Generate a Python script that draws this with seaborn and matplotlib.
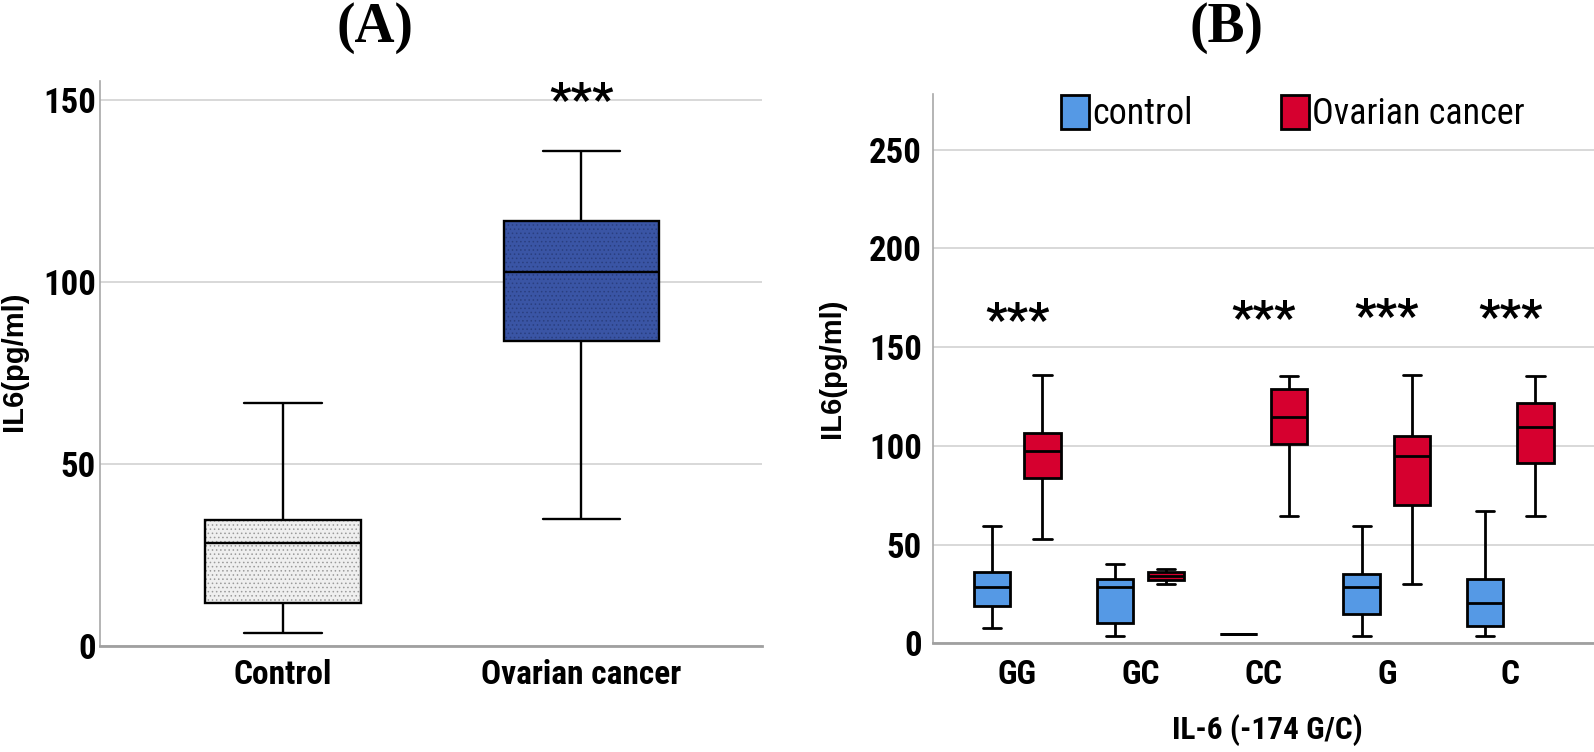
import os
import matplotlib
matplotlib.use("Agg")
import numpy as np
import pandas as pd
import seaborn as sns
import matplotlib.pyplot as plt
from matplotlib import font_manager, patches as mpatches, colors as mcolors
from matplotlib.font_manager import FontProperties

# ---------------- data ----------------
groups_A = ["Control", "Ovarian cancer"]
a_min = [3.7, 35.0]
a_q1 = [11.9, 83.8]
a_med = [28.2, 102.9]
a_q3 = [34.6, 116.8]
a_max = [66.8, 136.0]
yticks_A = [0, 50, 100, 150]

genotypes = ["GG", "GC", "CC", "G", "C"]
status_levels = ["control", "Ovarian cancer"]
ctrl_min = [7.8, 3.8, 5.0, 3.8, 3.8]
ctrl_q1 = [19.0, 10.5, 5.0, 15.0, 8.9]
ctrl_med = [28.8, 28.4, 5.0, 28.4, 20.3]
ctrl_q3 = [36.2, 32.6, 5.0, 35.1, 32.6]
ctrl_max = [59.2, 40.2, 5.0, 59.2, 66.8]
ov_min = [52.7, 30.1, 64.6, 29.9, 64.6]
ov_q1 = [83.8, 32.0, 100.8, 70.2, 91.4]
ov_med = [97.4, 34.0, 114.8, 94.7, 109.7]
ov_q3 = [106.6, 36.3, 128.7, 104.8, 121.5]
ov_max = [136.1, 37.7, 135.2, 136.1, 135.2]
yticks_B = [0, 50, 100, 150, 200, 250]

star_A_x = [1]
star_A_y = [153.5]
star_B_x = [0, 2, 3, 4]
star_B_y = [170.0, 171.0, 172.0, 171.6]

# ---------------- style ----------------
sns.set_theme(style="white")
plt.rcParams["font.family"] = ["Liberation Sans", "DejaVu Sans"]
for k in ("text.color", "axes.labelcolor", "xtick.color", "ytick.color"):
    plt.rcParams[k] = "black"
plt.rcParams["hatch.linewidth"] = 0.6

COND_WORDS = ("narrow", "condensed", "cond")


def _is_condensed(f):
    base = os.path.basename(f.fname).lower()
    name = f.name.lower()
    if any(w in name for w in COND_WORDS) or any(w in base for w in COND_WORDS):
        return True
    st = f.stretch
    if isinstance(st, str):
        return st in ("condensed", "extra-condensed", "ultra-condensed", "semi-condensed")
    return isinstance(st, (int, float)) and st < 500


def _pref(f):
    n = f.name.lower() + " " + os.path.basename(f.fname).lower()
    order = ["liberation sans narrow", "liberationsansnarrow", "arial narrow",
             "roboto condensed", "robotocondensed", "open sans condensed",
             "opensans_condensed", "opensans-condensed", "dejavu", "noto sans", "lato", "inter"]
    for i, o in enumerate(order):
        if o in n:
            return i
    return len(order)


def _w(f):
    return f.weight if isinstance(f.weight, (int, float)) else font_manager.weight_dict.get(f.weight, 400)


def find_font(bold):
    want = 700 if bold else 400
    best = None
    for f in font_manager.fontManager.ttflist:
        if f.style != "normal" or not _is_condensed(f):
            continue
        base = os.path.basename(f.fname).lower().replace("-", "").replace("_", "")
        extra = 1 if ("semicondensed" in base or "extracondensed" in base) else 0
        key = (abs(_w(f) - want) > 100, extra, _pref(f), abs(_w(f) - want))
        if best is None or key < best[0]:
            best = (key, f.fname)
    return best[1] if best else None


def find_named(name, bold):
    want = 700 if bold else 400
    best = None
    for f in font_manager.fontManager.ttflist:
        if f.name != name or f.style != "normal":
            continue
        key = abs(_w(f) - want)
        if best is None or key < best[0]:
            best = (key, f.fname)
    return best[1] if best else None


_fb = find_font(True)
_fr = find_font(False)
_serif_b = find_named("Liberation Serif", True)
SCALE = 1.0 if _fb else 0.84


def FP(bold, size):
    path = _fb if bold else _fr
    if path:
        return FontProperties(fname=path, size=size)
    return FontProperties(family="Liberation Sans", weight="bold" if bold else "normal",
                          size=size * SCALE)


def SERIF(size):
    if _serif_b:
        return FontProperties(fname=_serif_b, size=size)
    return FontProperties(family="DejaVu Serif", weight="bold", size=size)


W, H = 1594, 752
fig = plt.figure(figsize=(W / 100, H / 100), dpi=100)


def fax(l, r, t, b):
    return fig.add_axes([l / W, 1 - b / H, (r - l) / W, (b - t) / H])


axA = fax(100, 762, 81, 646)
axB = fax(933, 1594, 94.4, 643.4)

# ---------------- panel A ----------------
dfA = pd.DataFrame({
    "group": np.repeat(groups_A, 5),
    "value": np.column_stack([a_min, a_q1, a_med, a_q3, a_max]).ravel(),
})
fillA = ["#EFEFEF", "#3A55A5"]
hatchA = ["#9A9A9A", "#2A3F80"]
sns.boxplot(data=dfA, x="group", y="value", hue="group", palette=fillA,
            saturation=1, width=0.52, whis=(0, 100), linecolor="black",
            linewidth=1.7, fliersize=0, legend=False, ax=axA)
for p, hc in zip(axA.patches, hatchA):
    p.set_hatch("....")
    if hasattr(p, "set_hatchcolor"):
        p.set_hatchcolor(hc)
    else:
        p._hatch_color = mcolors.to_rgba(hc)

# ---------------- panel B ----------------
rows = []
for i, g in enumerate(genotypes):
    for v in (ctrl_min[i], ctrl_q1[i], ctrl_med[i], ctrl_q3[i], ctrl_max[i]):
        rows.append((g, status_levels[0], v))
    for v in (ov_min[i], ov_q1[i], ov_med[i], ov_q3[i], ov_max[i]):
        rows.append((g, status_levels[1], v))
dfB = pd.DataFrame(rows, columns=["genotype", "status", "value"])
fillB = {"control": "#5599E5", "Ovarian cancer": "#D6002F"}
sns.boxplot(data=dfB, x="genotype", y="value", hue="status", order=genotypes,
            hue_order=status_levels, palette=fillB, saturation=1, width=0.82,
            gap=0.28, whis=(0, 100), linecolor="black", linewidth=2.0,
            fliersize=0, legend=False, ax=axB)

# ---------------- axes styling ----------------
for ax, ticks, ylim, xlim, ypad, xpad in (
        (axA, yticks_A, (0, 155.3), (-0.613, 1.605), 3, 9.5),
        (axB, yticks_B, (0, 278), (-0.683, 4.68), 8, 11)):
    ax.set_ylim(*ylim)
    ax.set_xlim(*xlim)
    ax.set_yticks(ticks)
    ax.set_yticklabels([str(t) for t in ticks])
    for lbl in ax.get_yticklabels():
        lbl.set_fontproperties(FP(True, 25))
    ax.tick_params(axis="both", length=0)
    ax.tick_params(axis="y", pad=ypad)
    ax.tick_params(axis="x", pad=xpad)
    ax.yaxis.grid(True, color="#D6D6D6", linewidth=1.3)
    ax.xaxis.grid(False)
    ax.set_axisbelow(True)
    for s in ("top", "right"):
        ax.spines[s].set_visible(False)
    ax.spines["left"].set_color("#A8A8A8")
    ax.spines["left"].set_linewidth(1.2)
    ax.spines["bottom"].set_color("#A0A0A0")
    ax.spines["bottom"].set_linewidth(2.0)
    ax.set_xlabel("")
    ax.set_ylabel("")

axA.set_xticks(range(len(groups_A)))
axA.set_xticklabels(groups_A)
axB.set_xticks(range(len(genotypes)))
axB.set_xticklabels(genotypes)
for ax in (axA, axB):
    for lbl in ax.get_xticklabels():
        lbl.set_fontproperties(FP(True, 24))

# significance stars
STAR_FS = 34
for ax, xs, ys in ((axA, star_A_x, star_A_y), (axB, star_B_x, star_B_y)):
    for x, y in zip(xs, ys):
        ax.annotate("***", xy=(x, y), xytext=(0, -0.58 * STAR_FS),
                    textcoords="offset points", ha="center", va="baseline",
                    fontproperties=FP(True, STAR_FS), annotation_clip=False)

# labels and titles
fig.text(14 / W, 1 - 361.6 / H, "IL6(pg/ml)", rotation=90, ha="center",
         va="center", fontweight="bold", fontsize=21)
fig.text(832 / W, 1 - 368 / H, "IL6(pg/ml)", rotation=90, ha="center",
         va="center", fontweight="bold", fontsize=21)
fig.text(1267.5 / W, 1 - 730.5 / H, "IL-6 (-174 G/C)", ha="center",
         va="center", fontproperties=FP(True, 22.5))
fig.text(375 / W, 1 - 27.7 / H, "(A)", ha="center", va="center",
         fontproperties=SERIF(40))
fig.text(1226.5 / W, 1 - 27.7 / H, "(B)", ha="center", va="center",
         fontproperties=SERIF(40))

# legend
handles = [mpatches.Patch(facecolor=fillB[s], edgecolor="black", linewidth=2,
                          label=s) for s in status_levels]
fig.legend(handles=handles, loc="upper left",
           bbox_to_anchor=(1061 / W, 1 - 95 / H), ncol=2, frameon=False,
           prop=FP(False, 26), handlelength=0.78,
           handleheight=1.08, handletextpad=0.08, columnspacing=2.45,
           borderpad=0, borderaxespad=0)

fig.savefig("out.png", dpi=100)
